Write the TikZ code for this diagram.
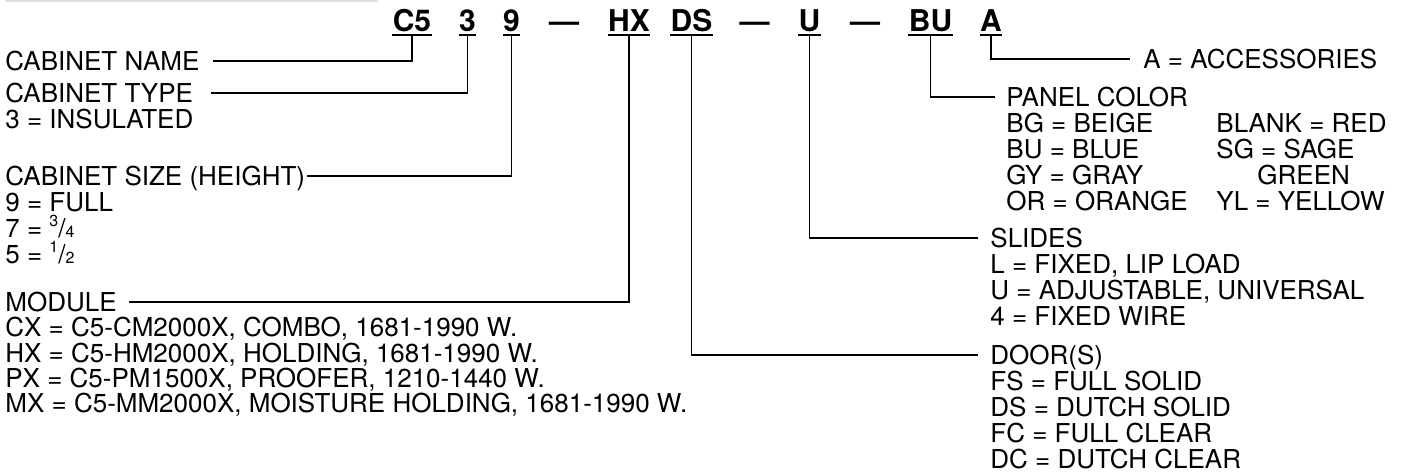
\documentclass[tikz,border=0pt]{standalone}
\usepackage{fontspec}
\setmainfont{TeX Gyre Heros}
\usetikzlibrary{positioning}
\newcommand{\smallfrac}[2]{\raisebox{0.42em}{\fontsize{8}{8}\selectfont #1}/{\fontsize{8}{8}\selectfont #2}}

\begin{document}
\begin{tikzpicture}[x=0.5pt, y=-0.5pt,
    codebox/.style={font=\fontsize{15}{16}\selectfont\bfseries, inner sep=0pt, anchor=base},
    lbl/.style={font=\fontsize{13}{14}\selectfont, inner sep=0pt, text height=9.3pt, text depth=0pt, anchor=west},
    lead/.style={line width=0.65pt},
    uline/.style={line width=0.9pt}
]
    \useasboundingbox (0,0) rectangle (1404,474);
    % Top rule
    \draw [gray!25, line width=0.8pt] (5,1) -- (378,1);

    % Model code
    % - [Code: C5 3 9 - HX DS - U - BU A]
    \node [codebox] (codeC5) at (412,32) {C5};
    \node [codebox] (code3) at (467.5,32) {3};
    \node [codebox] (code9) at (511.5,32) {9};
    \node [codebox] (dashA) at (564,32) {—};
    \node [codebox] (codeHX) at (629,32) {HX};
    \node [codebox] (codeDS) at (691.5,32) {DS};
    \node [codebox] (dashB) at (754.5,32) {—};
    \node [codebox] (codeU) at (809.5,32) {U};
    \node [codebox] (dashC) at (865,32) {—};
    \node [codebox] (codeBU) at (930.5,32) {BU};
    \node [codebox] (codeA) at (991,32) {A};
    % -- Underlines
    \foreach \c in {codeC5, code3, code9, codeHX, codeDS, codeU, codeBU, codeA}
        \draw [uline] ([yshift=-1.6pt]\c.base west) -- ([yshift=-1.6pt]\c.base east);

    % Left labels
    % - [Cabinet name and type]
    \node [lbl] (lblName) at (5,61) {CABINET NAME};
    \node [lbl] (lblType) at (5,93) {CABINET TYPE};
    \node [lbl] (typeIns) at (5,119) {3 = INSULATED};
    % - [Cabinet size]
    \node [lbl] (lblSize) at (5,176) {CABINET SIZE (HEIGHT)};
    \node [lbl] (sizeFull) at (5,202) {9 = FULL};
    \node [lbl] (sizeTq) at (5,228) {7 = \smallfrac{3}{4}};
    \node [lbl] (sizeHalf) at (5,254) {5 = \smallfrac{1}{2}};
    % - [Module]
    \node [lbl] (lblModule) at (5,302) {MODULE};
    \node [lbl] (modCX) at (5,327.5) {CX = C5-CM2000X, COMBO, 1681-1990 W.};
    \node [lbl] (modHX) at (5,353) {HX = C5-HM2000X, HOLDING, 1681-1990 W.};
    \node [lbl] (modPX) at (5,378) {PX = C5-PM1500X, PROOFER, 1210-1440 W.};
    \node [lbl] (modMX) at (5,403.5) {MX = C5-MM2000X, MOISTURE HOLDING, 1681-1990 W.};

    % Right labels
    % - [Accessories]
    \node [lbl] (lblAcc) at (1143,59) {A = ACCESSORIES};
    % - [Panel color]
    \node [lbl] (lblPanel) at (1006,97) {PANEL COLOR};
    \node [lbl] (colBG) at (1006,123) {BG = BEIGE};
    \node [lbl] (colBU) at (1006,149) {BU = BLUE};
    \node [lbl] (colGY) at (1006,175) {GY = GRAY};
    \node [lbl] (colOR) at (1006,201) {OR = ORANGE};
    \node [lbl] (colBlank) at (1216,123) {BLANK = RED};
    \node [lbl] (colSG) at (1216,149) {SG = SAGE};
    \node [lbl] (colGreen) at (1257,175) {GREEN};
    \node [lbl] (colYL) at (1216,201) {YL = YELLOW};
    % - [Slides]
    \node [lbl] (lblSlides) at (990,238) {SLIDES};
    \node [lbl] (slL) at (990,264) {L = FIXED, LIP LOAD};
    \node [lbl] (slU) at (990,290) {U = ADJUSTABLE, UNIVERSAL};
    \node [lbl] (sl4) at (990,316) {4 = FIXED WIRE};
    % - [Doors]
    \node [lbl] (lblDoor) at (990,355) {DOOR(S)};
    \node [lbl] (drFS) at (990,381) {FS = FULL SOLID};
    \node [lbl] (drDS) at (990,407) {DS = DUTCH SOLID};
    \node [lbl] (drFC) at (990,433) {FC = FULL CLEAR};
    \node [lbl] (drDC) at (990,459) {DC = DUTCH CLEAR};

    % Leader lines from code to labels
    \draw [lead] ([yshift=-1.6pt]codeC5.base) |- ([xshift=6.5pt]lblName.east);
    \draw [lead] ([yshift=-1.6pt]code3.base) |- ([xshift=8.6pt]lblType.east);
    \draw [lead] ([yshift=-1.6pt]code9.base) |- ([xshift=0.8pt]lblSize.east);
    \draw [lead] ([yshift=-1.6pt]codeHX.base) |- ([xshift=6pt]lblModule.east);
    \draw [lead] ([yshift=-1.6pt]codeDS.base) |- ([xshift=-6pt]lblDoor.west);
    \draw [lead] ([yshift=-1.6pt]codeU.base) |- ([xshift=-6pt]lblSlides.west);
    \draw [lead] ([yshift=-1.6pt]codeBU.base) |- ([xshift=-5.5pt]lblPanel.west);
    \draw [lead] ([yshift=-1.6pt]codeA.base) |- ([xshift=-6.5pt]lblAcc.west);
\end{tikzpicture}
\end{document}
